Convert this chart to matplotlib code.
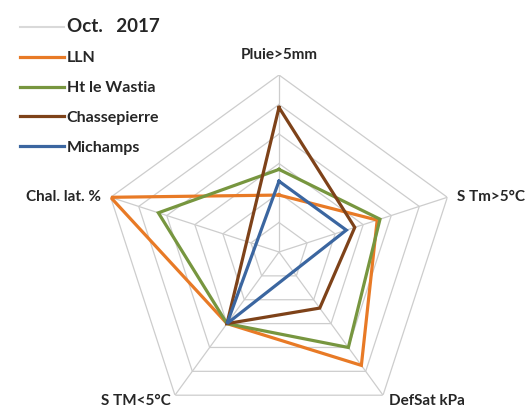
import numpy as np
import matplotlib
matplotlib.use("Agg")
import matplotlib.pyplot as plt
from matplotlib.lines import Line2D

# ---- data (unitless radar scale 0..6) ----
categories = ["Pluie>5mm", "S Tm>5°C", "DefSat kPa", "S TM<5°C", "Chal. lat. %"]
header_label = "Oct.   2017"
series_names = ["LLN", "Ht le Wastia", "Chassepierre", "Michamps"]
lln = [1.93, 3.5, 4.75, 3.0, 6.0]
wastia = [2.8, 3.6, 4.0, 3.0, 4.3]
chassepierre = [4.9, 2.7, 2.35, 3.0, np.nan]
michamps = [2.4, 2.4, np.nan, 3.0, np.nan]
ring_levels = [1, 2, 3, 4, 5, 6]

colors = ["#E87A26", "#77963F", "#7E4219", "#3B66A0"]
header_color = "#D9D9D9"
grid_color = "#CDCDCD"
text_color = "#262626"

W, H = 527, 408
fig = plt.figure(figsize=(W / 100, H / 100), dpi=100)
cx, cy, R = 279, 252, 177
ax = fig.add_axes([(cx - R) / W, (H - cy - R) / H, 2 * R / W, 2 * R / H], projection="polar")
ax.set_theta_zero_location("N")
ax.set_theta_direction(-1)
ax.set_ylim(0, ring_levels[-1])
ax.grid(False)
ax.spines["polar"].set_visible(False)
ax.set_xticks([])
ax.set_yticks([])
ax.patch.set_alpha(0)

n = len(categories)
angles = [2 * np.pi * i / n for i in range(n)]

# pentagon grid
for lv in ring_levels:
    ax.plot(angles + [angles[0]], [lv] * (n + 1), color=grid_color, lw=0.9, zorder=1)
for a in angles:
    ax.plot([a, a], [0, ring_levels[-1]], color=grid_color, lw=0.9, zorder=1)

# series (missing values are skipped and neighbours connected)
all_series = [lln, wastia, chassepierre, michamps]
for vals, col in zip(all_series, colors):
    th = [a for a, v in zip(angles, vals) if not np.isnan(v)]
    rr = [v for v in vals if not np.isnan(v)]
    th.append(th[0]); rr.append(rr[0])
    ax.plot(th, rr, color=col, lw=2.3, zorder=3, solid_joinstyle="miter")

# axis labels
offsets = [(0, 13, "center", "bottom"), (10, 0, "left", "center"),
           (6, -6, "left", "center"), (-4, -6, "right", "center"),
           (-10, 0, "right", "center")]
for a, lab, (dx, dy, ha, va) in zip(angles, categories, offsets):
    ax.annotate(lab, xy=(a, ring_levels[-1]), xytext=(dx, dy), textcoords="offset pixels",
                ha=ha, va=va, fontsize=11, fontweight="bold", family="Lato",
                color=text_color, annotation_clip=False)

# legend
handles = [Line2D([], [], color=header_color, lw=1.5)]
handles += [Line2D([], [], color=c, lw=2.3) for c in colors]
leg = fig.legend(handles, [header_label] + series_names, loc="upper left",
                 bbox_to_anchor=(0.01, 0.99), frameon=False, handlelength=2.8,
                 handletextpad=0.15, labelspacing=0.98,
                 prop={"family": "Lato", "weight": "bold", "size": 11.5})
for t in leg.get_texts():
    t.set_color(text_color)
leg.get_texts()[0].set_fontsize(13.5)

fig.savefig("out.png", dpi=100)
